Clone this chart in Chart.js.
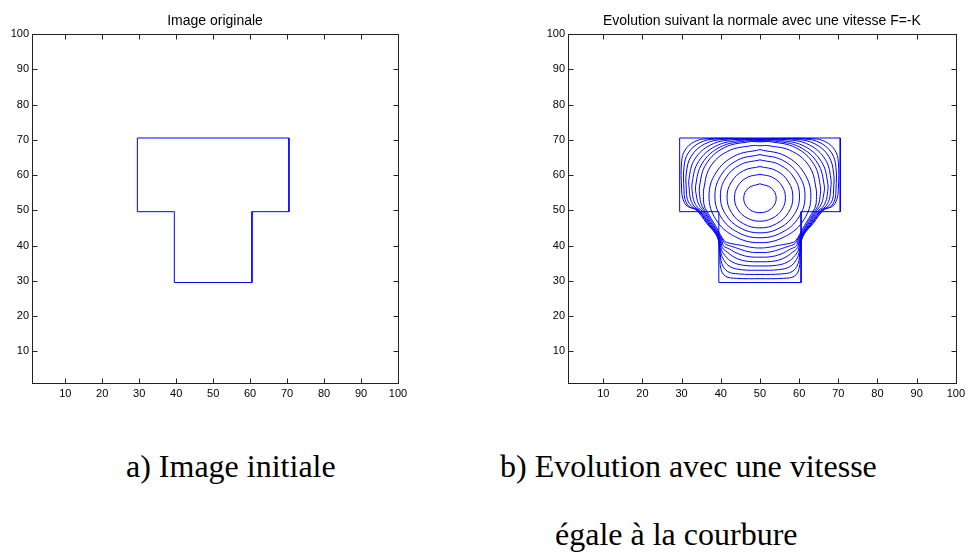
<!DOCTYPE html>
<html lang="fr">
<head>
<meta charset="UTF-8">
<title>Evolution suivant la normale</title>
<script src="https://cdn.jsdelivr.net/npm/chart.js"></script>
<style>
  body { margin: 0; background: #fff; width: 969px; height: 554px; position: relative; overflow: hidden; }
  canvas { position: absolute; top: 0; }
  #left { left: 0; width: 430px; height: 410px; }
  #right { left: 530px; width: 439px; height: 410px; }
  .caption { position: absolute; font-family: 'Liberation Serif', 'Times New Roman', serif; font-size: 32px; line-height: 32px; color: #000; white-space: nowrap; }
</style>
</head>
<body>
<canvas id="left" width="430" height="410"></canvas>
<canvas id="right" width="439" height="410"></canvas>
<div class="caption" style="left:126px; top:450px;">a) Image initiale</div>
<div class="caption" style="left:500px; top:450px;">b) Evolution avec une vitesse</div>
<div class="caption" style="left:555px; top:518px;">égale à la courbure</div>
<script>
// axes
const xTicks = [10, 20, 30, 40, 50, 60, 70, 80, 90, 100];
const yTicks = [10, 20, 30, 40, 50, 60, 70, 80, 90, 100];
const titleLeft = 'Image originale';
const titleRight = 'Evolution suivant la normale avec une vitesse F=-K';

// forme initiale (T)
const tShape = [[29.5,70.5],[70.5,70.5],[70.5,49.6],[60.5,49.6],[60.5,29.5],[39.5,29.5],[39.5,49.6],[29.5,49.6],[29.5,70.5]];

// courbes de niveau, de l'exterieur vers l'interieur
const c01 = [[50,70.3],[36.5,70.3],[33.25,69.43],[30.87,67.05],[30.0,63.8],[30.0,56],[30.4,53],[31.5,51.1],[33.6,50.2],[36.4,46.3],[39.1,42.4],[39.7,38],[40.0,33.5],[41.2,31.3],[44,30.7],[50,30.6],
  [56,30.7],[58.8,31.3],[60.0,33.5],[60.3,38],[60.9,42.4],[63.6,46.3],[66.4,50.2],[68.5,51.1],[69.6,53],[70.0,56],[70.0,63.8],[69.13,67.05],[66.75,69.43],[63.5,70.3],[50,70.3]];
const c02 = [[50,70.2],[38.6,70.2],[34.6,69.13],[31.67,66.2],[30.6,62.2],[30.6,56],[30.9,53],[32.0,51.0],[34.0,50.0],[36.7,46.2],[39.3,42.3],[39.8,38.3],[40.3,34.8],[41.8,32.6],[44.6,31.95],[50,31.8],
  [55.4,31.95],[58.2,32.6],[59.7,34.8],[60.2,38.3],[60.7,42.3],[63.3,46.2],[66.0,50.0],[68.0,51.0],[69.1,53],[69.4,56],[69.4,62.2],[68.33,66.2],[65.4,69.13],[61.4,70.2],[50,70.2]];
const c03 = [[50,70.1],[40.7,70.1],[35.95,68.83],[32.47,65.35],[31.2,60.6],[31.2,56],[31.5,53],[32.7,51.0],[34.4,49.9],[37.0,46.05],[39.5,42.2],[39.9,38.6],[40.7,36.0],[42.4,34.0],[45.2,33.15],[50,33.0],
  [54.8,33.15],[57.6,34.0],[59.3,36.0],[60.1,38.6],[60.5,42.2],[63.0,46.05],[65.6,49.9],[67.3,51.0],[68.5,53],[68.8,56],[68.8,60.6],[67.53,65.35],[64.05,68.83],[59.3,70.1],[50,70.1]];
const c04 = [[50,70.0],[42.9,70.0],[37.4,68.53],[33.37,64.5],[31.9,59.0],[32.0,55.5],[32.3,53.1],[33.3,51.0],[34.8,49.8],[37.3,45.9],[39.7,42.0],[40.1,39.0],[41.1,37.1],[43.0,35.3],[45.8,34.4],[50,34.2],
  [54.2,34.4],[57.0,35.3],[58.9,37.1],[59.9,39.0],[60.3,42.0],[62.7,45.9],[65.2,49.8],[66.7,51.0],[67.7,53.1],[68.0,55.5],[68.1,59.0],[66.63,64.5],[62.6,68.53],[57.1,70.0],[50,70.0]];
const c05 = [[50,69.8],[44.7,69.8],[38.7,68.19],[34.31,63.8],[32.7,57.8],[32.8,54.5],[33.2,52.5],[34.0,50.9],[35.2,49.8],[37.6,45.8],[39.9,41.8],[40.4,39.4],[41.7,38.1],[43.6,36.6],[46.3,35.6],[50,35.4],
  [53.7,35.6],[56.4,36.6],[58.3,38.1],[59.6,39.4],[60.1,41.8],[62.4,45.8],[64.8,49.8],[66.0,50.9],[66.8,52.5],[67.2,54.5],[67.3,57.8],[65.69,63.8],[61.3,68.19],[55.3,69.8],[50,69.8]];
const c06 = [[50,69.6],[46.1,69.6],[39.85,67.93],[35.28,63.35],[33.6,57.1],[33.8,54.0],[34.4,51.6],[35.6,49.8],[37.95,45.7],[40.2,41.7],[40.7,39.9],[42.2,39.0],[44.2,37.8],[46.8,36.9],[50,36.7],
  [53.2,36.9],[55.8,37.8],[57.8,39.0],[59.3,39.9],[59.8,41.7],[62.05,45.7],[64.4,49.8],[65.6,51.6],[66.2,54.0],[66.4,57.1],[64.72,63.35],[60.15,67.93],[53.9,69.6],[50,69.6]];
const c07 = [[50,69.4],[47.1,69.4],[40.85,67.73],[36.28,63.15],[34.6,56.9],[34.7,53.5],[35.1,51.5],[36.0,49.8],[38.3,45.6],[40.5,41.5],[41.2,40.4],[42.7,39.8],[44.8,39.0],[47.3,38.2],[50,38.0],
  [52.7,38.2],[55.2,39.0],[57.3,39.8],[58.8,40.4],[59.5,41.5],[61.7,45.6],[64.0,49.8],[64.9,51.5],[65.3,53.5],[65.4,56.9],[63.72,63.15],[59.15,67.73],[52.9,69.4],[50,69.4]];
const c08 = [[50,68.3],[47.7,68.3],[41.7,66.69],[37.31,62.3],[35.7,56.3],[35.6,53.0],[35.8,51.2],[36.4,49.8],[38.7,45.5],[40.9,41.3],[41.8,40.8],[43.4,40.4],[45.5,40.0],[47.7,39.5],[50,39.3],
  [52.3,39.5],[54.5,40.0],[56.6,40.4],[58.2,40.8],[59.1,41.3],[61.3,45.5],[63.6,49.8],[64.2,51.2],[64.4,53.0],[64.3,56.3],[62.69,62.3],[58.3,66.69],[52.3,68.3],[50,68.3]];
const c09 = [[50,67.2],[43.5,65.4],[38.74,60.6],[37.0,54],[38.74,47.4],[43.5,42.6],[50,40.8],[56.5,42.6],[61.26,47.4],[63.0,54],[61.26,60.6],[56.5,65.4],[50,67.2]];
const c10 = [[50,65.8],[44.25,64.2],[40.04,59.9],[38.5,54],[40.04,48.1],[44.25,43.8],[50,42.2],[55.75,43.8],[59.96,48.1],[61.5,54],[59.96,59.9],[55.75,64.2],[50,65.8]];
const c11 = [[50,64.3],[44.95,62.9],[41.25,59.15],[39.9,54],[41.25,48.8],[44.95,45.0],[50,43.6],[55.05,45.0],[58.75,48.8],[60.1,54],[58.75,59.15],[55.05,62.9],[50,64.3]];
const c12 = [[50,62.4],[45.8,61.23],[42.73,58.05],[41.6,53.7],[42.73,49.35],[45.8,46.17],[50,45.0],[54.2,46.17],[57.27,49.35],[58.4,53.7],[57.27,58.05],[54.2,61.23],[50,62.4]];
const c13 = [[50,60.2],[46.75,59.31],[44.37,56.88],[43.5,53.55],[44.37,50.22],[46.75,47.79],[50,46.9],[53.25,47.79],[55.63,50.22],[56.5,53.55],[55.63,56.88],[53.25,59.31],[50,60.2]];
const c14 = [[50,57.5],[47.07,56.3],[45.85,53.4],[47.07,50.5],[50,49.3],[52.93,50.5],[54.15,53.4],[52.93,56.3],[50,57.5]];

const contours = [c01, c02, c03, c04, c05, c06, c07, c08, c09, c10, c11, c12, c13, c14];

function lineSet(points, tension) {
  return {
    data: points.map(p => ({ x: p[0], y: p[1] })),
    showLine: true,
    borderColor: 'rgb(0,0,255)',
    borderWidth: 1,
    pointRadius: 0,
    tension: tension,
    fill: false
  };
}

// cadre type matlab : boite, graduations vers l'interieur, titre
const matlabAxes = {
  id: 'matlabAxes',
  afterDraw(chart, args, opts) {
    const { ctx, chartArea: a, scales } = chart;
    const l = Math.round(a.left) + 0.5, t = Math.round(a.top) + 0.5;
    const r = Math.round(a.right) + 0.5, b = Math.round(a.bottom) + 0.5;
    ctx.save();
    ctx.strokeStyle = '#222';
    ctx.lineWidth = 1;
    ctx.strokeRect(l, t, r - l, b - t);
    ctx.beginPath();
    xTicks.forEach(v => {
      const x = Math.round(scales.x.getPixelForValue(v)) + 0.5;
      ctx.moveTo(x, b); ctx.lineTo(x, b - 5);
      ctx.moveTo(x, t); ctx.lineTo(x, t + 5);
    });
    yTicks.forEach(v => {
      const y = Math.round(scales.y.getPixelForValue(v)) + 0.5;
      ctx.moveTo(l, y); ctx.lineTo(l + 5, y);
      ctx.moveTo(r, y); ctx.lineTo(r - 5, y);
    });
    ctx.stroke();
    ctx.fillStyle = '#000';
    ctx.font = '14px "Liberation Sans", Arial, sans-serif';
    ctx.textAlign = 'center';
    ctx.textBaseline = 'alphabetic';
    ctx.fillText(opts.text, (a.left + a.right) / 2, a.top - 9);
    ctx.restore();
  }
};

function makeChart(id, title, datasets, yWidth, padRight) {
  const tickFont = { family: '"Liberation Sans", Arial, sans-serif', size: 11 };
  return new Chart(document.getElementById(id), {
    type: 'scatter',
    data: { datasets: datasets },
    options: {
      responsive: false,
      devicePixelRatio: 1,
      animation: false,
      layout: { padding: { top: 34, right: padRight, bottom: 7, left: 0 } },
      plugins: {
        legend: { display: false },
        tooltip: { enabled: false },
        matlabAxes: { text: title }
      },
      scales: {
        x: {
          type: 'linear', min: 1, max: 100,
          afterBuildTicks: s => { s.ticks = xTicks.map(v => ({ value: v })); },
          afterFit: s => { s.height = 20; },
          grid: { display: false, drawTicks: false },
          border: { display: false },
          ticks: { color: '#000', font: tickFont, padding: 4, maxRotation: 0, autoSkip: false }
        },
        y: {
          type: 'linear', min: 1, max: 100,
          afterBuildTicks: s => { s.ticks = yTicks.map(v => ({ value: v })); },
          afterFit: s => { s.width = yWidth; },
          grid: { display: false, drawTicks: false },
          border: { display: false },
          ticks: { color: '#000', font: tickFont, padding: 3, autoSkip: false }
        }
      }
    },
    plugins: [matlabAxes]
  });
}

makeChart('left', titleLeft, [lineSet(tShape, 0)], 32, 32);
makeChart('right', titleRight,
  [lineSet(tShape, 0)].concat(contours.map(c => lineSet(c, 0.4))), 38, 10);
</script>
</body>
</html>
